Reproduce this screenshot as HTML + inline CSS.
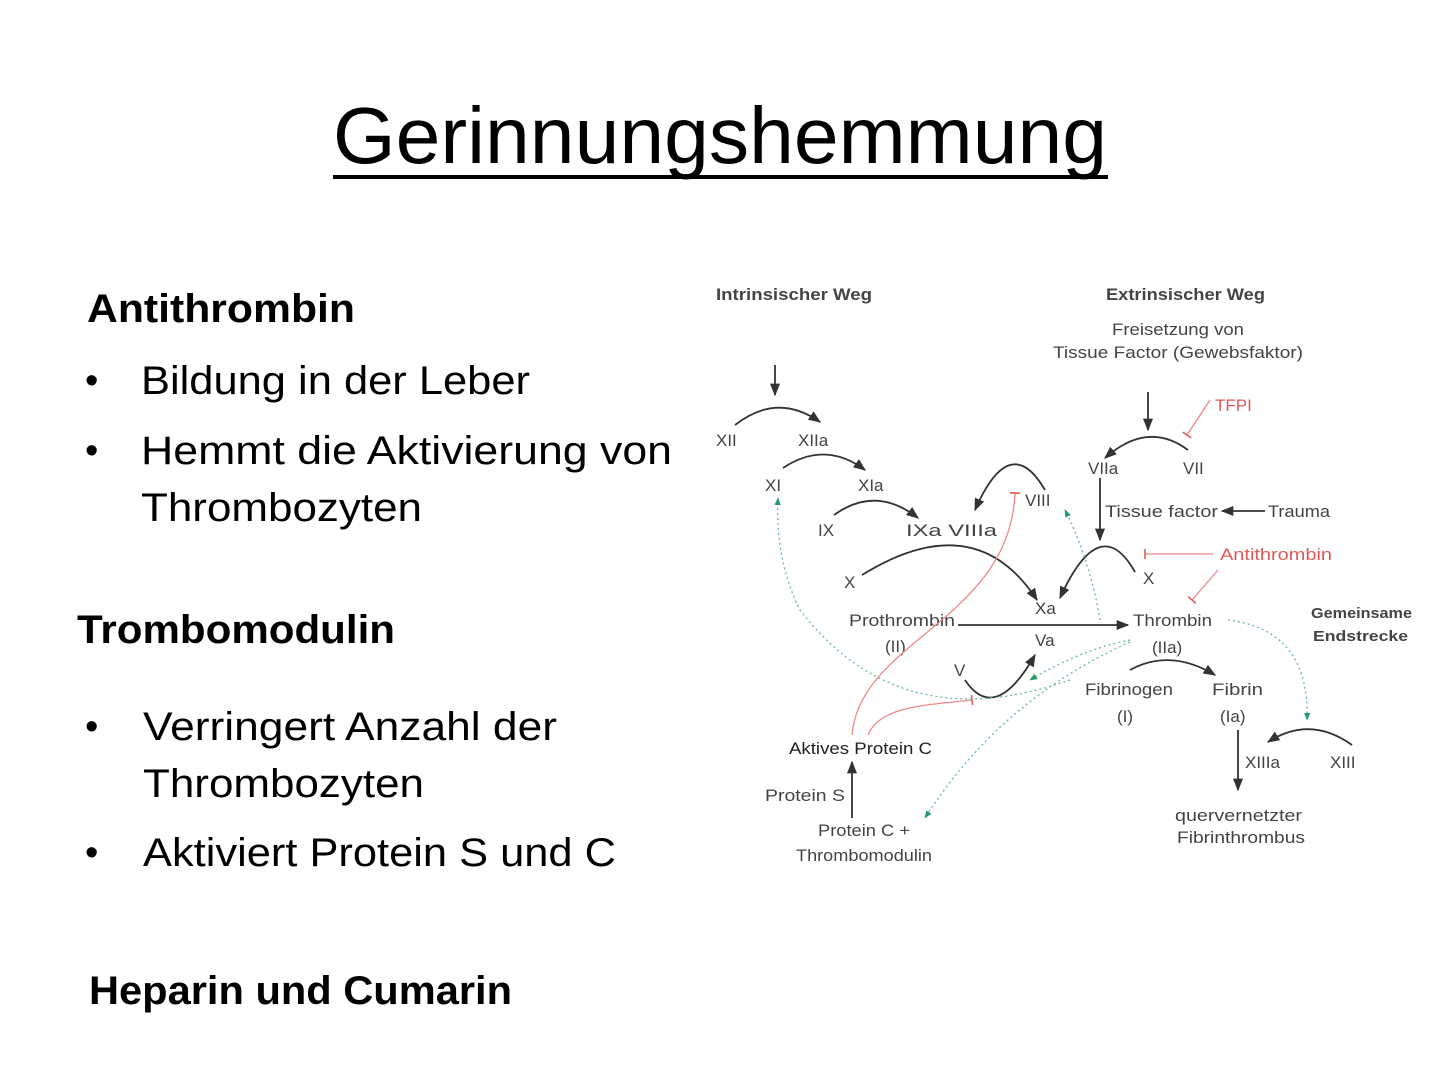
<!DOCTYPE html>
<html><head><meta charset="utf-8"><style>
html,body{margin:0;padding:0;background:#fff;}
svg{display:block;}
.t{font-family:"Liberation Sans",sans-serif;fill:#000;}
.d{font-family:"Liberation Sans",sans-serif;fill:#444;font-size:17px;}
.r{fill:#e05a5a;}
</style></head><body>
<svg width="1440" height="1080" viewBox="0 0 1440 1080" xmlns="http://www.w3.org/2000/svg">
<defs>
<marker id="a" viewBox="0 0 10 10" refX="9" refY="5" markerWidth="7" markerHeight="7" orient="auto"><path d="M0,1 L10,5 L0,9 z" fill="#333"/></marker>
<marker id="g" viewBox="0 0 10 10" refX="9" refY="5" markerWidth="6" markerHeight="6" orient="auto"><path d="M0,1 L10,5 L0,9 z" fill="#2a9a6a"/></marker>
<marker id="b" viewBox="0 0 10 10" refX="5" refY="5" markerWidth="8" markerHeight="8" orient="auto"><path d="M5,0 L5,10" stroke="#e05a5a" stroke-width="1.5"/></marker>
</defs>
<text class="t" x="333" y="163" font-size="80" textLength="774" lengthAdjust="spacingAndGlyphs">Gerinnungshemmung</text>
<rect x="333" y="175" width="775" height="4" fill="#000"/>

<text class="t" x="87" y="322" font-size="40" font-weight="bold" textLength="268" lengthAdjust="spacingAndGlyphs">Antithrombin</text>
<text class="t" x="85" y="393" font-size="38">•</text>
<text class="t" x="141" y="394" font-size="40" textLength="389" lengthAdjust="spacingAndGlyphs">Bildung in der Leber</text>
<text class="t" x="85" y="463" font-size="38">•</text>
<text class="t" x="141" y="464" font-size="40" textLength="531" lengthAdjust="spacingAndGlyphs">Hemmt die Aktivierung von</text>
<text class="t" x="141" y="521" font-size="40" textLength="281" lengthAdjust="spacingAndGlyphs">Thrombozyten</text>

<text class="t" x="77" y="643" font-size="40" font-weight="bold" textLength="318" lengthAdjust="spacingAndGlyphs">Trombomodulin</text>
<text class="t" x="85" y="739" font-size="38">•</text>
<text class="t" x="143" y="740" font-size="40" textLength="414" lengthAdjust="spacingAndGlyphs">Verringert Anzahl der</text>
<text class="t" x="143" y="797" font-size="40" textLength="281" lengthAdjust="spacingAndGlyphs">Thrombozyten</text>
<text class="t" x="85" y="865" font-size="38">•</text>
<text class="t" x="143" y="866" font-size="40" textLength="473" lengthAdjust="spacingAndGlyphs">Aktiviert Protein S und C</text>

<text class="t" x="89" y="1004" font-size="40" font-weight="bold" textLength="423" lengthAdjust="spacingAndGlyphs">Heparin und Cumarin</text>

<g class="d">
<text x="716" y="300" font-weight="bold" textLength="156" lengthAdjust="spacingAndGlyphs">Intrinsischer Weg</text>
<text x="1106" y="300" font-weight="bold" textLength="159" lengthAdjust="spacingAndGlyphs">Extrinsischer Weg</text>
<text x="1112" y="335" textLength="132" lengthAdjust="spacingAndGlyphs">Freisetzung von</text>
<text x="1053" y="358" textLength="250" lengthAdjust="spacingAndGlyphs">Tissue Factor (Gewebsfaktor)</text>
<text x="716" y="446">XII</text>
<text x="798" y="446">XIIa</text>
<text x="765" y="491">XI</text>
<text x="858" y="491">XIa</text>
<text x="818" y="536">IX</text>
<text x="906" y="536" textLength="91" lengthAdjust="spacingAndGlyphs">IXa VIIIa</text>
<text x="1025" y="506">VIII</text>
<text x="1088" y="474">VIIa</text>
<text x="1183" y="474">VII</text>
<text class="r" x="1215" y="411">TFPI</text>
<text x="1105" y="517" textLength="113" lengthAdjust="spacingAndGlyphs">Tissue factor</text>
<text x="1268" y="517" textLength="62" lengthAdjust="spacingAndGlyphs">Trauma</text>
<text class="r" x="1220" y="560" textLength="112" lengthAdjust="spacingAndGlyphs">Antithrombin</text>
<text x="844" y="588">X</text>
<text x="1143" y="584">X</text>
<text x="1035" y="614">Xa</text>
<text x="1035" y="646">Va</text>
<text x="849" y="626" textLength="106" lengthAdjust="spacingAndGlyphs">Prothrombin</text>
<text x="885" y="652">(II)</text>
<text x="1133" y="626" textLength="79" lengthAdjust="spacingAndGlyphs">Thrombin</text>
<text x="1152" y="653">(IIa)</text>
<text x="1311" y="618" font-weight="bold" font-size="15" textLength="101" lengthAdjust="spacingAndGlyphs">Gemeinsame</text>
<text x="1313" y="641" font-weight="bold" font-size="15" textLength="95" lengthAdjust="spacingAndGlyphs">Endstrecke</text>
<text x="1085" y="695" textLength="88" lengthAdjust="spacingAndGlyphs">Fibrinogen</text>
<text x="1117" y="722">(I)</text>
<text x="1212" y="695" textLength="51" lengthAdjust="spacingAndGlyphs">Fibrin</text>
<text x="1220" y="722">(Ia)</text>
<text x="1245" y="768">XIIIa</text>
<text x="1330" y="768">XIII</text>
<text x="1175" y="821" textLength="127" lengthAdjust="spacingAndGlyphs">quervernetzter</text>
<text x="1177" y="843" textLength="128" lengthAdjust="spacingAndGlyphs">Fibrinthrombus</text>
<text x="954" y="676">V</text>
<text x="789" y="754" fill="#222" textLength="143" lengthAdjust="spacingAndGlyphs">Aktives Protein C</text>
<text x="765" y="801" textLength="80" lengthAdjust="spacingAndGlyphs">Protein S</text>
<text x="818" y="836" textLength="92" lengthAdjust="spacingAndGlyphs">Protein C +</text>
<text x="796" y="861" textLength="136" lengthAdjust="spacingAndGlyphs">Thrombomodulin</text>
</g>
<g fill="none" stroke="#333" stroke-width="1.8">
<path d="M775,365 L775,395" marker-end="url(#a)"/>
<path d="M735,425 Q777,392 820,422" marker-end="url(#a)"/>
<path d="M783,468 Q825,440 865,470" marker-end="url(#a)"/>
<path d="M834,515 Q876,485 918,518" marker-end="url(#a)"/>
<path d="M1045,490 Q1010,430 975,510" marker-end="url(#a)"/>
<path d="M1148,392 L1148,430" marker-end="url(#a)"/>
<path d="M1188,450 Q1148,420 1105,458" marker-end="url(#a)"/>
<path d="M1265,511 L1222,511" marker-end="url(#a)"/>
<path d="M1100,478 L1100,540" marker-end="url(#a)"/>
<path d="M862,575 Q975,505 1037,600" marker-end="url(#a)"/>
<path d="M1135,572 Q1100,510 1060,598" marker-end="url(#a)"/>
<path d="M958,625 L1128,625" marker-end="url(#a)"/>
<path d="M1130,670 Q1170,648 1215,675" marker-end="url(#a)"/>
<path d="M1238,730 L1238,790" marker-end="url(#a)"/>
<path d="M1352,745 Q1310,715 1268,742" marker-end="url(#a)"/>
<path d="M965,680 Q995,725 1035,655" marker-end="url(#a)"/>
<path d="M852,818 L852,762" marker-end="url(#a)"/>
</g>
<g fill="none" stroke="#e88" stroke-width="1.3">
<path d="M1210,400 L1187,435" marker-end="url(#b)"/>
<path d="M1213,554 L1145,554" marker-end="url(#b)"/>
<path d="M1218,570 L1192,600" marker-end="url(#b)"/>
<path d="M852,735 C860,640 1010,620 1015,493" marker-end="url(#b)"/>
<path d="M868,735 C880,705 930,705 972,700" marker-end="url(#b)"/>
</g>
<g fill="none" stroke="#6bb89a" stroke-width="1.3" stroke-dasharray="2,3">
<path d="M1228,620 Q1310,630 1307,720" marker-end="url(#g)"/>
<path d="M1130,640 Q1080,650 1030,680" marker-end="url(#g)"/>
<path d="M1130,642 Q1000,700 925,818" marker-end="url(#g)"/>
<path d="M1100,620 Q1090,560 1065,510" marker-end="url(#g)"/>
<path d="M1070,680 Q900,740 800,610 Q775,560 778,498" marker-end="url(#g)"/>
</g>
</svg>
</body></html>
